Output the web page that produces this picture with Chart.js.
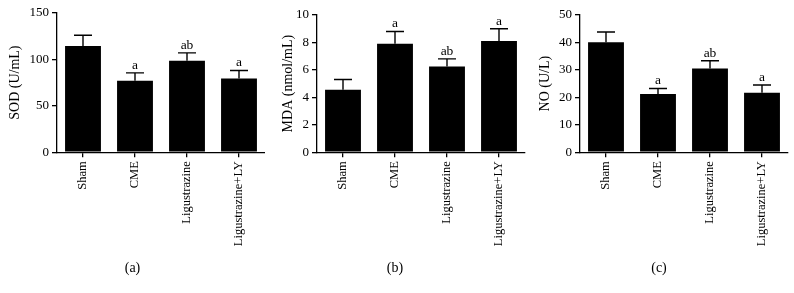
<!DOCTYPE html>
<html>
<head>
<meta charset="utf-8">
<script src="https://cdn.jsdelivr.net/npm/chart.js@4.4.0/dist/chart.umd.min.js"></script>
<style>
  body{margin:0;background:#fff;}
  #wrap{position:relative;width:794px;height:293px;}
  canvas{position:absolute;top:0;}
</style>
</head>
<body>
<div id="wrap">
  <canvas id="chartA" width="265" height="293" style="left:0"></canvas>
  <canvas id="chartB" width="265" height="293" style="left:265px"></canvas>
  <canvas id="chartC" width="264" height="293" style="left:530px"></canvas>
</div>
<script>
const groups=["Sham","CME","Ligustrazine","Ligustrazine+LY"];

const sodMean=[114.5,77,98.5,79.5];
const sodErr=[11.5,8.5,8.5,8.5];
const sodMarks=["","a","ab","a"];

const mdaMean=[4.55,7.9,6.25,8.1];
const mdaErr=[0.75,0.9,0.55,0.9];
const mdaMarks=["","a","ab","a"];

const noMean=[40.1,21.2,30.5,21.7];
const noErr=[3.7,2.0,2.8,2.8];
const noMarks=["","a","ab","a"];

const serif="'Liberation Serif','DejaVu Serif',serif";

// draws the upper half of each error bar plus the significance letters
const errorBars={
    id:"errorBars",
    afterDatasetsDraw(chart,args,opts){
        const ctx=chart.ctx;
        const meta=chart.getDatasetMeta(0);
        const yScale=chart.scales.y;
        ctx.save();
        ctx.strokeStyle="#000";
        ctx.lineWidth=1.4;
        meta.data.forEach((bar,i)=>{
            const top=yScale.getPixelForValue(opts.mean[i]+opts.err[i]);
            ctx.beginPath();
            ctx.moveTo(bar.x,bar.y);
            ctx.lineTo(bar.x,top);
            ctx.moveTo(bar.x-9,top);
            ctx.lineTo(bar.x+9,top);
            ctx.stroke();
            if(opts.marks[i]){
                ctx.fillStyle="#000";
                ctx.font="13.5px "+serif;
                ctx.textAlign="center";
                ctx.textBaseline="bottom";
                ctx.fillText(opts.marks[i],bar.x,top-1);
            }
        });
        ctx.restore();
    }
};

function makeChart(id,mean,err,marks,yTitle,yMax,yStep,panel,pad,axisW,titleOff){
    return new Chart(document.getElementById(id),{
        type:"bar",
        data:{
            labels:groups,
            datasets:[{
                data:mean,
                backgroundColor:"#000",
                borderWidth:0,
                barPercentage:0.69,
                categoryPercentage:1
            }]
        },
        options:{
            responsive:false,
            animation:false,
            layout:{padding:pad},
            plugins:{
                legend:{display:false},
                tooltip:{enabled:false},
                title:{display:true,position:"bottom",text:panel,color:"#000",font:{family:serif,size:14,weight:"normal"},padding:0},
                errorBars:{mean:mean,err:err,marks:marks}
            },
            scales:{
                x:{
                    grid:{display:true,drawOnChartArea:false,offset:false,color:"#000",tickColor:"#000",tickLength:5,lineWidth:1.3},
                    border:{display:true,color:"#000",width:1.3},
                    ticks:{color:"#000",font:{family:serif,size:12.5},minRotation:90,maxRotation:90,padding:4,autoSkip:false},
                    afterFit:s=>{s.height=108;}
                },
                y:{
                    min:0,max:yMax,
                    grid:{display:true,drawOnChartArea:false,color:"#000",tickColor:"#000",tickLength:5,lineWidth:1.3},
                    border:{display:true,color:"#000",width:1.3},
                    ticks:{color:"#000",stepSize:yStep,font:{family:serif,size:13},padding:3},
                    title:{display:true,text:yTitle,color:"#000",font:{family:serif,size:14},padding:{top:titleOff,bottom:0}},
                    afterFit:s=>{s.width=axisW;}
                }
            }
        },
        plugins:[errorBars]
    });
}

makeChart("chartA",sodMean,sodErr,sodMarks,"SOD (U/mL)",150,50,"(a)",{top:13,bottom:16,left:0,right:0},57,6.5);
makeChart("chartB",mdaMean,mdaErr,mdaMarks,"MDA (nmol/mL)",10,2,"(b)",{top:15,bottom:16,left:0,right:5},52,14.5);
makeChart("chartC",noMean,noErr,noMarks,"NO (U/L)",50,10,"(c)",{top:15,bottom:16,left:0,right:6},50,6.5);
</script>
</body>
</html>
